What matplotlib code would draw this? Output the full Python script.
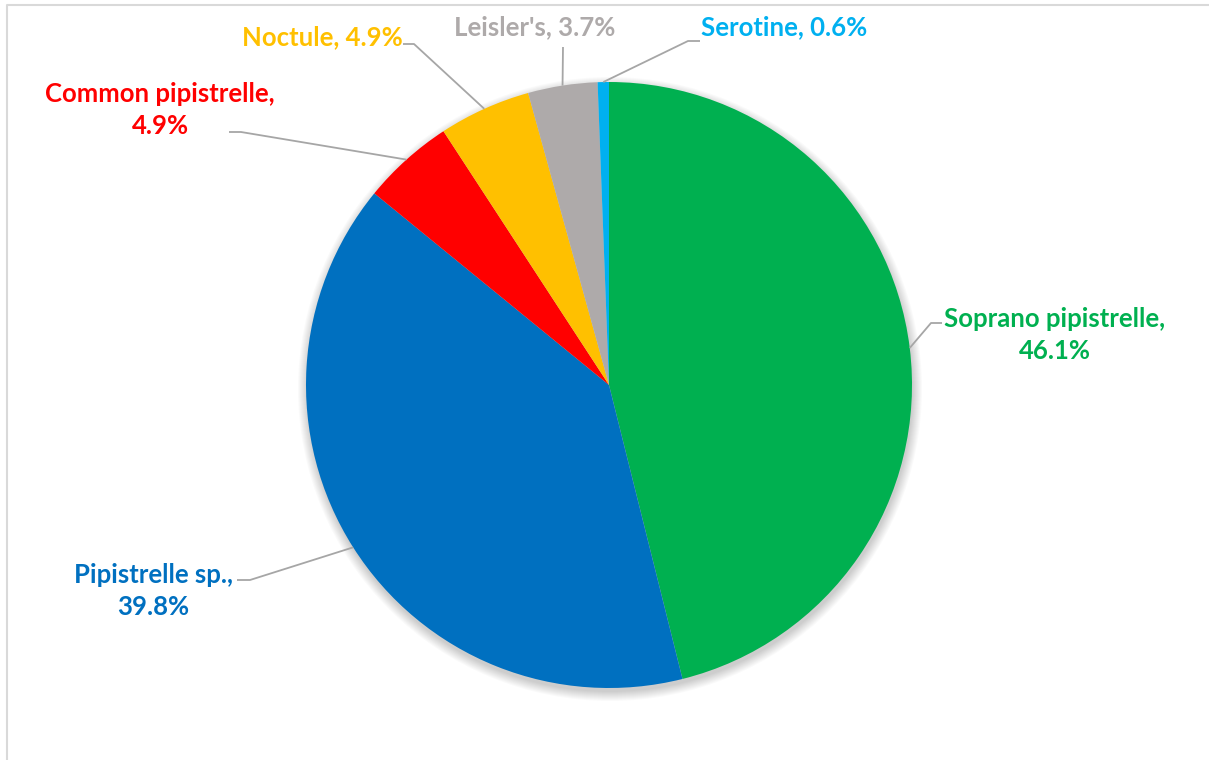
import numpy as np
import matplotlib.pyplot as plt
from matplotlib.patches import Circle

# bat passes by species
species = ["Soprano pipistrelle", "Pipistrelle sp.", "Common pipistrelle",
           "Noctule", "Leisler's", "Serotine"]
percent = [46.1, 39.8, 4.9, 4.9, 3.7, 0.6]
colours = ["#00B050", "#0070C0", "#FF0000", "#FFC000", "#AEAAAA", "#00B0F0"]

W, H = 1209, 760
cx, cy, r = 609, 385, 303   # pie centre / radius in pixels (y from top)

# label placement: text centre, leader elbow, leader tail (pixels, y from top)
two_line = [True, True, True, False, False, False]
text_pos = [(1055, 335), (153, 591), (160, 110), (322, 37), (535, 27), (784, 27)]
elbow = [(931, 323), (250, 580), (241, 132), (414, 44), (563, 47), (688, 41)]
tail = [(942, 323), (237, 580), (229, 132), (403, 44), (563, 47), (700, 41)]

plt.rcParams['font.family'] = ['Lato', 'DejaVu Sans']

fig = plt.figure(figsize=(W / 100, H / 100), dpi=100)
ax = fig.add_axes([0, 0, 1, 1])

# soft shadow under the pie
for k in range(10):
    ax.add_patch(Circle((cx + 1, H - cy - 4), r + 9 - k, color="#000000",
                        alpha=0.02, lw=0, zorder=0))

wedges, _ = ax.pie(percent, colors=colours, startangle=90, counterclock=False,
                   center=(cx, H - cy), radius=r,
                   wedgeprops=dict(linewidth=0, zorder=1))

ax.set_xlim(0, W)
ax.set_ylim(0, H)
ax.set_aspect('auto')
ax.axis('off')

for i, w in enumerate(wedges):
    mid = np.deg2rad((w.theta1 + w.theta2) / 2)
    ax_x = cx + r * np.cos(mid)
    ax_y = (H - cy) + r * np.sin(mid)
    xs = [ax_x, elbow[i][0], tail[i][0]]
    ys = [ax_y, H - elbow[i][1], H - tail[i][1]]
    ax.plot(xs, ys, color="#A6A6A6", lw=1.3, zorder=2, solid_capstyle='butt')

    sep = ",\n" if two_line[i] else ", "
    label = f"{species[i]}{sep}{percent[i]:.1f}%"
    ax.text(text_pos[i][0], H - text_pos[i][1], label, color=colours[i],
            fontsize=18.5, fontweight='bold', ha='center', va='center',
            multialignment='center', linespacing=1.4)

# chart area border (top and left edges)
ax.plot([7, 7, W], [0, H - 5, H - 5], color="#D9D9D9", lw=1.5, clip_on=False)

fig.savefig("out.png", dpi=100)
